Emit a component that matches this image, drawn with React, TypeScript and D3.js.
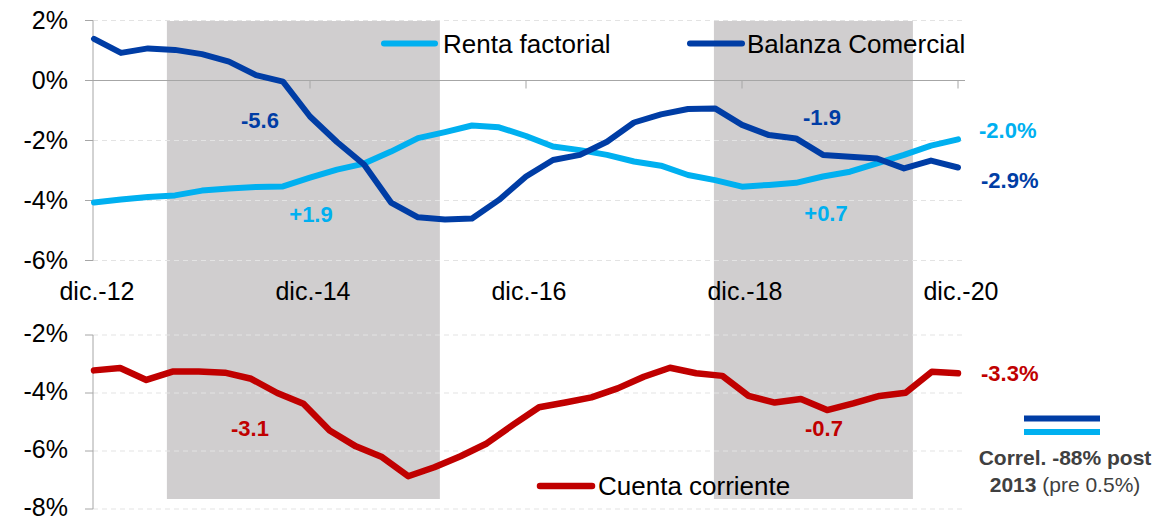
import React from "react";
import * as d3 from "d3";

// ---- Data ----
const quarters = [
  "dic.-12","mar.-13","jun.-13","sep.-13","dic.-13","mar.-14","jun.-14","sep.-14",
  "dic.-14","mar.-15","jun.-15","sep.-15","dic.-15","mar.-16","jun.-16","sep.-16",
  "dic.-16","mar.-17","jun.-17","sep.-17","dic.-17","mar.-18","jun.-18","sep.-18",
  "dic.-18","mar.-19","jun.-19","sep.-19","dic.-19","mar.-20","jun.-20","sep.-20",
  "dic.-20",
];
const tickLabels = ["dic.-12", "dic.-14", "dic.-16", "dic.-18", "dic.-20"];

const balanzaComercial = [
  1.39, 0.92, 1.07, 1.02, 0.88, 0.63, 0.18, -0.04,
  -1.2, -2.05, -2.8, -4.07, -4.56, -4.63, -4.6, -3.98,
  -3.2, -2.65, -2.48, -2.04, -1.4, -1.13, -0.95, -0.93,
  -1.48, -1.82, -1.93, -2.48, -2.54, -2.6, -2.93, -2.67,
  -2.9,
];
const rentaFactorial = [
  -4.07, -3.97, -3.88, -3.83, -3.67, -3.6, -3.55, -3.53,
  -3.24, -2.97, -2.77, -2.37, -1.92, -1.72, -1.5, -1.56,
  -1.85, -2.2, -2.32, -2.48, -2.7, -2.84, -3.15, -3.32,
  -3.54, -3.48, -3.41, -3.2, -3.04, -2.76, -2.48, -2.17,
  -1.96,
];
const cuentaCorriente = [
  -3.22, -3.14, -3.55, -3.26, -3.26, -3.3, -3.51, -4.0,
  -4.37, -5.29, -5.84, -6.21, -6.87, -6.56, -6.18, -5.74,
  -5.1, -4.49, -4.33, -4.15, -3.84, -3.44, -3.13, -3.32,
  -3.41, -4.1, -4.33, -4.21, -4.59, -4.36, -4.1, -3.99,
  -3.27, -3.32,
];
const topTicks = [2, 0, -2, -4, -6];
const bottomTicks = [-2, -4, -6, -8];
// shaded periods, in quarter-index units
const shadeStart = [2.7, 22.96];
const shadeEnd = [12.81, 30.33];

const C_LIGHT = "#00B0F0";
const C_DARK = "#003DA5";
const C_RED = "#C00000";
const FONT = "'Liberation Sans', Arial, sans-serif";

export default function App() {
  const W = 1176, H = 518;
  const axisX = 93, plotRight = 965;
  const x = d3.scaleLinear().domain([0, quarters.length - 1]).range([94, 958]);
  const xr = d3.scaleLinear().domain([0, cuentaCorriente.length - 1]).range([94, 958]);
  const yT = d3.scaleLinear().domain([-6, 2]).range([260.5, 20.5]);
  const yB = d3.scaleLinear().domain([-8, -2]).range([509, 335]);

  const lineT = (vals: number[]) =>
    d3.line<number>().x((_, i) => x(i)).y((d) => yT(d))(vals) || "";
  const lineB = d3.line<number>().x((_, i) => xr(i)).y((d) => yB(d))(cuentaCorriente) || "";

  const tickIdx = tickLabels.map((t) => quarters.indexOf(t));

  return (
    <svg width={W} height={H} style={{ position: "absolute", left: 0, top: 0, background: "#fff" }} fontFamily={FONT}>
      {/* shading */}
      {shadeStart.map((s, k) => (
        <rect key={k} x={x(s)} y={21} width={x(shadeEnd[k]) - x(s)} height={499 - 21} fill="#D0CECF" />
      ))}
      {/* gridlines */}
      {topTicks.filter((t) => t !== 0).map((t) => (
        <line key={t} x1={axisX} x2={plotRight} y1={yT(t)} y2={yT(t)} stroke="#E3E3E3" strokeWidth={1} strokeDasharray="5,4" />
      ))}
      {bottomTicks.map((t) => (
        <line key={t} x1={axisX} x2={plotRight} y1={yB(t)} y2={yB(t)} stroke="#E3E3E3" strokeWidth={1} strokeDasharray="5,4" />
      ))}
      {/* top axes */}
      <line x1={axisX} x2={axisX} y1={yT(2)} y2={yT(-6)} stroke="#A6A6A6" strokeWidth={1} />
      {topTicks.map((t) => (
        <g key={t}>
          <line x1={axisX - 8} x2={axisX} y1={yT(t)} y2={yT(t)} stroke="#A6A6A6" />
          <text x={68} y={yT(t)} dy="0.35em" textAnchor="end" fontSize={25} fill="#000">{t}%</text>
        </g>
      ))}
      <line x1={axisX} x2={plotRight} y1={yT(0)} y2={yT(0)} stroke="#A6A6A6" strokeWidth={1.2} />
      {tickIdx.slice(1).map((i) => (
        <line key={i} x1={x(i)} x2={x(i)} y1={yT(0)} y2={yT(0) + 8} stroke="#A6A6A6" />
      ))}
      {tickIdx.map((i, k) => (
        <text key={k} x={x(i) + 3} y={300} textAnchor="middle" fontSize={25} fill="#000">{tickLabels[k]}</text>
      ))}
      {/* bottom axis */}
      <line x1={axisX} x2={axisX} y1={yB(-2)} y2={yB(-8)} stroke="#A6A6A6" strokeWidth={1} />
      {bottomTicks.map((t) => (
        <g key={t}>
          <line x1={axisX - 8} x2={axisX} y1={yB(t)} y2={yB(t)} stroke="#A6A6A6" />
          <text x={68} y={yB(t)} dy="0.27em" textAnchor="end" fontSize={25} fill="#000">{t}%</text>
        </g>
      ))}

      {/* series */}
      <path d={lineT(rentaFactorial)} fill="none" stroke={C_LIGHT} strokeWidth={6} strokeLinejoin="round" strokeLinecap="round" />
      <path d={lineT(balanzaComercial)} fill="none" stroke={C_DARK} strokeWidth={6} strokeLinejoin="round" strokeLinecap="round" />
      <path d={lineB} fill="none" stroke={C_RED} strokeWidth={6.5} strokeLinejoin="round" strokeLinecap="round" />

      {/* legends */}
      <line x1={384} x2={435} y1={43.5} y2={43.5} stroke={C_LIGHT} strokeWidth={6} strokeLinecap="round" />
      <text x={443} y={53} fontSize={26} fill="#000">Renta factorial</text>
      <line x1={690} x2={742} y1={43.5} y2={43.5} stroke={C_DARK} strokeWidth={6} strokeLinecap="round" />
      <text x={747} y={53} fontSize={26} fill="#000">Balanza Comercial</text>
      <line x1={540} x2={592} y1={486} y2={486} stroke={C_RED} strokeWidth={6.5} strokeLinecap="round" />
      <text x={598} y={495} fontSize={26} fill="#000">Cuenta corriente</text>

      {/* annotations */}
      <g fontWeight="bold" fontSize={22}>
        <text x={260} y={128} textAnchor="middle" fill={C_DARK}>-5.6</text>
        <text x={311} y={222} textAnchor="middle" fill={C_LIGHT}>+1.9</text>
        <text x={822} y={125} textAnchor="middle" fill={C_DARK}>-1.9</text>
        <text x={826} y={221} textAnchor="middle" fill={C_LIGHT}>+0.7</text>
        <text x={979} y={138} fill={C_LIGHT}>-2.0%</text>
        <text x={981} y={188} fill={C_DARK}>-2.9%</text>
        <text x={250} y={436} textAnchor="middle" fill={C_RED}>-3.1</text>
        <text x={824} y={436} textAnchor="middle" fill={C_RED}>-0.7</text>
        <text x={981} y={381} fill={C_RED}>-3.3%</text>
      </g>

      {/* correlation note */}
      <rect x={1024} y={415.5} width={76} height={6} fill={C_DARK} />
      <rect x={1024} y={429} width={76} height={6} fill={C_LIGHT} />
      <text x={1065} y={465} textAnchor="middle" fontSize={21} fontWeight="bold" fill="#404040">Correl. -88% post</text>
      <text x={1065} y={491.5} textAnchor="middle" fontSize={21} fill="#404040">
        <tspan fontWeight="bold">2013</tspan> (pre 0.5%)
      </text>
    </svg>
  );
}
